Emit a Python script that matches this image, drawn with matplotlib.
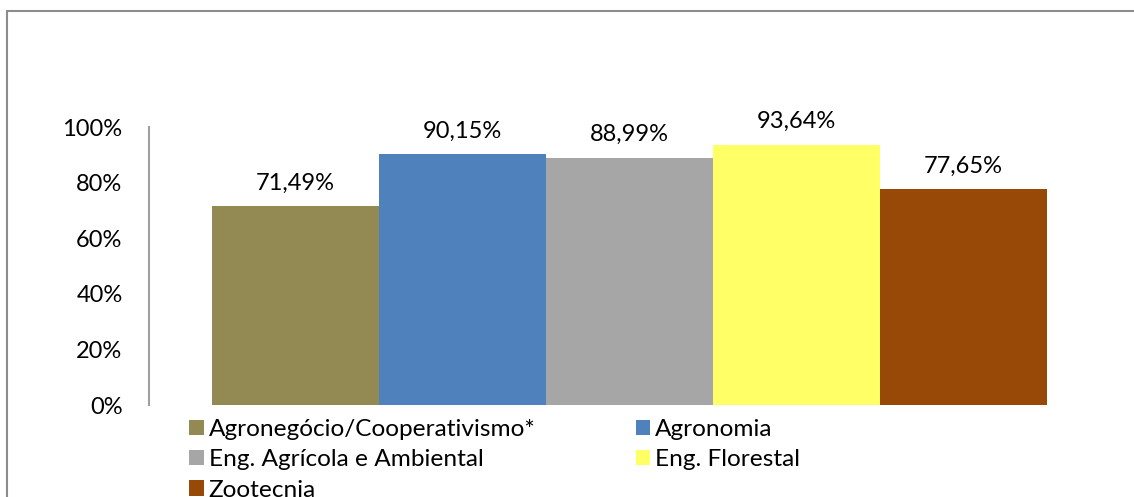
import matplotlib.pyplot as plt
from matplotlib.patches import Rectangle, Patch

cursos = ['Agronegócio/Cooperativismo*', 'Agronomia', 'Eng. Agrícola e Ambiental',
          'Eng. Florestal', 'Zootecnia']
valores = [71.49, 90.15, 88.99, 93.64, 77.65]
rotulos = ['71,49%', '90,15%', '88,99%', '93,64%', '77,65%']
cores = ['#938953', '#4F81BD', '#A6A6A6', '#FFFF66', '#984807']
yticks = [0, 20, 40, 60, 80, 100]

plt.rcParams['font.family'] = ['Lato', 'DejaVu Sans']

W, H = 1134, 497
fig = plt.figure(figsize=(W / 100, H / 100), dpi=100)

# moldura do grafico (continua alem da borda da imagem)
fig.patches.append(Rectangle((7 / W, -0.1), 1.2, 1 - 11 / H + 0.1,
                             transform=fig.transFigure, fill=False,
                             edgecolor='#8c8c8c', linewidth=1.5))

ax = fig.add_axes([149 / W, 1 - 405 / H, (1110 - 149) / W, (405 - 127) / H])

x = list(range(len(valores)))
bars = ax.bar(x, valores, width=1.0, color=cores, linewidth=0)
for xi, v, r in zip(x, valores, rotulos):
    ax.text(xi, v + 4.5, r, ha='center', va='bottom', fontsize=17, color='#000000')

ax.set_xlim(-0.5 - 63 / 167, len(valores) - 0.5 + 63 / 167)
ax.set_ylim(0, 100)
ax.set_yticks(yticks)
ax.set_yticklabels([f'{t}%' for t in yticks], fontsize=17)
ax.tick_params(axis='y', length=0, pad=19)
ax.set_xticks([])
for s in ['top', 'right', 'bottom']:
    ax.spines[s].set_visible(False)
ax.spines['left'].set_color('#a0a0a0')
ax.spines['left'].set_linewidth(1.5)

# legenda em duas colunas, preenchida por linhas
ordem = [0, 2, 4, 1, 3]
handles = [Patch(facecolor=cores[i], edgecolor='none') for i in ordem]
labels = [cursos[i] for i in ordem]
fig.legend(handles, labels, ncol=2, loc='upper left',
           bbox_to_anchor=(189 / W, 1 - 419 / H), frameon=False, fontsize=17.6,
           handlelength=0.6, handleheight=0.6, handletextpad=0.2,
           labelspacing=0.38, columnspacing=4.1, borderpad=0, borderaxespad=0)

fig.savefig('out.png', dpi=100)
